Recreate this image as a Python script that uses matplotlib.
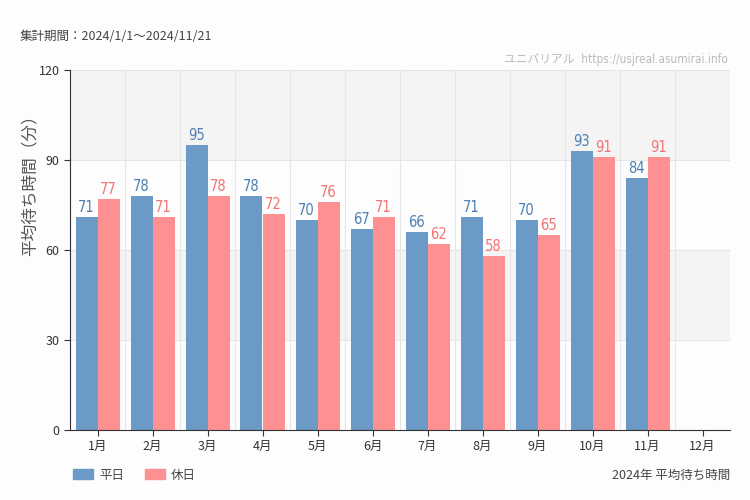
import matplotlib
matplotlib.use('Agg')
import matplotlib.pyplot as plt
from matplotlib.patches import Patch
import numpy as np

plt.rcParams['font.family'] = ['Noto Sans CJK JP', 'DejaVu Sans']

months = ['1月', '2月', '3月', '4月', '5月', '6月', '7月', '8月', '9月', '10月', '11月', '12月']
weekday = [71, 78, 95, 78, 70, 67, 66, 71, 70, 93, 84, None]
holiday = [77, 71, 78, 72, 76, 71, 62, 58, 65, 91, 91, None]

blue = '#6b9ac6'
pink = '#ff9092'
bg = '#fcfdfc'

fig = plt.figure(figsize=(7.5, 5), dpi=100, facecolor=bg)
ax = fig.add_axes([70/750, 70/500, 660/750, 360/500])
ax.set_facecolor(bg)

x = np.arange(len(months))
w = 0.4
# alternating bands
for lo, hi in [(30, 60), (90, 120)]:
    ax.axhspan(lo, hi, color='#f4f4f4', zorder=0, lw=0)
for y in [30, 60, 90, 120]:
    ax.axhline(y, color='#e6e6e6', lw=0.8, zorder=0.5)
for xb in np.arange(0.5, 11.5, 1):
    ax.axvline(xb, color='#e6e6e6', lw=0.8, zorder=0.5)

num_font = dict(family='DejaVu Sans', fontstretch='condensed', fontsize=10.5)
for i in range(len(months)):
    if weekday[i] is None:
        continue
    ax.bar(x[i] - w/2, weekday[i], w, color=blue, zorder=2)
    ax.bar(x[i] + w/2, holiday[i], w, color=pink, zorder=2)
    ax.text(x[i] - w/2, weekday[i] + 0.6, str(weekday[i]), ha='center', va='bottom',
            color='#4d7fb3', **num_font)
    ax.text(x[i] + w/2, holiday[i] + 0.6, str(holiday[i]), ha='center', va='bottom',
            color='#f47374', **num_font)

ax.set_xlim(-0.5, 11.5)
ax.set_ylim(0, 120)
ax.set_yticks([0, 30, 60, 90, 120])
ax.set_xticks(x)
ax.set_xticklabels(months)
ax.tick_params(axis='both', labelsize=9, colors='#333333', length=4)
for s in ['top', 'right']:
    ax.spines[s].set_visible(False)
ax.spines['left'].set_color('#333333')
ax.spines['bottom'].set_color('#333333')
ax.set_ylabel('平均待ち時間（分）', fontsize=12, color='#555555')
ax.yaxis.set_label_coords(-0.048, 0.69)

fig.text(20/750, 1 - 37/500, '集計期間：2024/1/1〜2024/11/21', fontsize=9, color='#444444', va='center')
fig.text(728/750, 1 - 60/500, 'ユニバリアル  https://usjreal.asumirai.info', fontsize=8.5,
         color='#bbbbbb', ha='right', va='center', fontstretch='condensed',
         family=['DejaVu Sans', 'Noto Sans CJK JP'])
fig.text(730/750, 1 - 475/500, '2024年 平均待ち時間', fontsize=9, color='#444444', ha='right', va='center')

leg = fig.legend(handles=[Patch(color=blue, label='平日'), Patch(color=pink, label='休日')],
                 loc='center left', bbox_to_anchor=(62/750, 1 - 475/500), ncol=2, frameon=False,
                 fontsize=9, handlelength=1.6, handleheight=0.9, columnspacing=1.6, handletextpad=0.5)
for t in leg.get_texts():
    t.set_color('#444444')

fig.savefig('out.png', dpi=100, facecolor=bg)
